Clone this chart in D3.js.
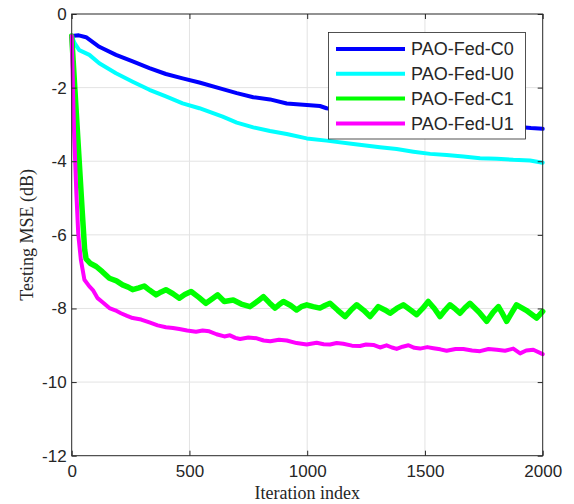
<!DOCTYPE html>
<meta charset="utf-8">
<style>
  body { margin: 0; background: #fff; }
  text { font-family: "Liberation Sans", Arial, Helvetica, sans-serif; }
</style>
<body>
<div class="chart"></div>
<script src="https://d3js.org/d3.v7.min.js"></script>
<script>

    // values (iteration index, testing MSE in dB)
    const iterC0 = [0, 30, 61, 117, 188, 259, 330, 400, 471, 542, 641, 701, 771, 842, 913, 998, 1054, 1082, 1200, 1300, 1400, 1500, 1600, 1700, 1800, 1900, 1950, 2000];
    const mseC0 = [-0.6, -0.58, -0.63, -0.89, -1.11, -1.29, -1.47, -1.63, -1.75, -1.86, -2.04, -2.15, -2.26, -2.32, -2.43, -2.47, -2.50, -2.56, -2.66, -2.76, -2.84, -2.91, -2.96, -3.0, -3.04, -3.07, -3.10, -3.12];

    const iterU0 = [0, 13, 32, 75, 117, 188, 259, 330, 400, 471, 542, 641, 701, 771, 842, 913, 998, 1082, 1196, 1309, 1380, 1451, 1522, 1592, 1663, 1734, 1805, 1875, 1946, 2000];
    const mseU0 = [-0.6, -0.80, -0.98, -1.11, -1.34, -1.61, -1.84, -2.06, -2.24, -2.43, -2.56, -2.79, -2.95, -3.08, -3.18, -3.26, -3.38, -3.44, -3.53, -3.62, -3.67, -3.74, -3.80, -3.83, -3.87, -3.92, -3.93, -3.96, -3.98, -4.04];

    const iterC1 = [0, 30, 45, 55, 61, 80, 104, 130, 160, 190, 216, 240, 259, 285, 308, 330, 358, 380, 400, 430, 457, 480, 507, 540, 570, 600, 620, 648, 686, 720, 757, 790, 814, 840, 863, 880, 899, 930, 955, 975, 998, 1025, 1054, 1075, 1097, 1130, 1161, 1185, 1210, 1240, 1267, 1285, 1302, 1330, 1352, 1380, 1408, 1440, 1465, 1490, 1514, 1540, 1564, 1585, 1606, 1630, 1649, 1670, 1691, 1730, 1762, 1790, 1812, 1830, 1847, 1870, 1889, 1930, 1974, 2000];
    const mseC1 = [-0.6, -3.8, -5.4, -6.4, -6.65, -6.78, -6.86, -7.0, -7.18, -7.25, -7.36, -7.42, -7.49, -7.44, -7.39, -7.5, -7.63, -7.55, -7.49, -7.6, -7.72, -7.62, -7.54, -7.7, -7.86, -7.72, -7.63, -7.81, -7.77, -7.88, -7.95, -7.8, -7.68, -7.85, -7.99, -7.9, -7.81, -7.92, -8.04, -7.95, -7.9, -7.95, -7.99, -7.92, -7.86, -8.05, -8.22, -8.05, -7.9, -8.05, -8.22, -8.08, -7.95, -8.04, -8.13, -8.0, -7.9, -8.05, -8.17, -8.0, -7.81, -8.0, -8.22, -8.05, -7.9, -8.02, -8.13, -7.98, -7.86, -8.1, -8.35, -8.1, -7.95, -8.15, -8.35, -8.1, -7.9, -8.05, -8.26, -8.08];

    const iterU1 = [0, 10, 20, 28, 39, 54, 75, 90, 110, 135, 160, 185, 209, 235, 259, 295, 330, 365, 400, 430, 457, 490, 528, 556, 584, 615, 648, 672, 695, 715, 750, 786, 815, 843, 880, 913, 955, 998, 1040, 1070, 1097, 1125, 1153, 1190, 1224, 1250, 1281, 1309, 1337, 1360, 1380, 1405, 1430, 1455, 1479, 1510, 1536, 1565, 1592, 1630, 1663, 1700, 1734, 1770, 1805, 1840, 1875, 1904, 1930, 1960, 2000];
    const mseU1 = [-0.6, -3.2, -4.9, -6.0, -6.68, -7.22, -7.40, -7.5, -7.72, -7.85, -7.99, -8.05, -8.13, -8.2, -8.26, -8.3, -8.38, -8.46, -8.51, -8.53, -8.56, -8.6, -8.63, -8.6, -8.62, -8.7, -8.76, -8.73, -8.8, -8.83, -8.79, -8.81, -8.87, -8.89, -8.85, -8.87, -8.94, -8.98, -8.93, -8.97, -8.98, -8.94, -8.96, -9.01, -9.02, -8.98, -8.99, -9.06, -9.0, -9.06, -9.1, -9.04, -9.0, -9.07, -9.09, -9.05, -9.08, -9.11, -9.15, -9.1, -9.1, -9.14, -9.16, -9.1, -9.12, -9.15, -9.09, -9.22, -9.14, -9.12, -9.24];

    const seriesNames = ["PAO-Fed-C0", "PAO-Fed-U0", "PAO-Fed-C1", "PAO-Fed-U1"];
    const seriesColors = ["#0000ff", "#00ffff", "#00ff00", "#ff00ff"];
    const xTicks = [0, 500, 1000, 1500, 2000];
    const yTicks = [0, -2, -4, -6, -8, -10, -12];

    let width = 574;
    let height = 504;
    let margin = {top: 14, right: 31.3, bottom: 48.3, left: 71.7};

    let series = [
        {name: seriesNames[0], color: seriesColors[0], x: iterC0, y: mseC0, w: 4},
        {name: seriesNames[1], color: seriesColors[1], x: iterU0, y: mseU0, w: 4},
        {name: seriesNames[2], color: seriesColors[2], x: iterC1, y: mseC1, w: 5.5},
        {name: seriesNames[3], color: seriesColors[3], x: iterU1, y: mseU1, w: 4}
    ];

    let svg = d3.select(".chart").append("svg")
        .attr("width", width)
        .attr("height", height);

    let x = d3.scaleLinear().domain([0, 2000]).range([margin.left, width - margin.right]);
    let y = d3.scaleLinear().domain([-12, 0]).range([height - margin.bottom, margin.top]);

    // grid
    let grid = svg.append("g").attr("stroke", "#e3e3e3").attr("stroke-width", 1);
    grid.selectAll(".gx").data(xTicks.slice(1, -1)).join("line")
        .attr("x1", d => x(d)).attr("x2", d => x(d))
        .attr("y1", y(-12)).attr("y2", y(0));
    grid.selectAll(".gy").data(yTicks.slice(1, -1)).join("line")
        .attr("x1", x(0)).attr("x2", x(2000))
        .attr("y1", d => y(d)).attr("y2", d => y(d));

    // curves
    let line = d3.line()
        .x(d => x(d[0]))
        .y(d => y(d[1]));

    svg.append("g")
        .attr("fill", "none")
        .attr("stroke-linejoin", "round")
        .attr("stroke-linecap", "round")
        .selectAll("path")
        .data(series)
        .join("path")
        .attr("stroke", d => d.color)
        .attr("stroke-width", d => d.w)
        .attr("d", d => line(d.x.map((v, i) => [v, d.y[i]])));

    // axes, MATLAB style: inward ticks on all four sides
    let styleAxis = g => {
        g.select(".domain").remove();
        g.selectAll("line").attr("stroke", "#262626");
        g.selectAll("text").attr("fill", "#262626").style("font-size", "17px")
            .style("font-family", '"Liberation Sans", Arial, sans-serif');
    };

    svg.append("g")
        .attr("transform", `translate(0,${y(-12)})`)
        .call(d3.axisBottom(x).tickValues(xTicks).tickSize(-5).tickPadding(9).tickFormat(d3.format("d")))
        .call(styleAxis);
    svg.append("g")
        .attr("transform", `translate(0,${y(0)})`)
        .call(d3.axisTop(x).tickValues(xTicks).tickSize(-5).tickFormat(""))
        .call(styleAxis);
    svg.append("g")
        .attr("transform", `translate(${x(0)},0)`)
        .call(d3.axisLeft(y).tickValues(yTicks).tickSize(-5).tickPadding(5).tickFormat(d => d3.format("d")(d).replace("−", "-")))
        .call(styleAxis);
    svg.append("g")
        .attr("transform", `translate(${x(2000)},0)`)
        .call(d3.axisRight(y).tickValues(yTicks).tickSize(-5).tickFormat(""))
        .call(styleAxis);

    svg.append("rect")
        .attr("x", x(0)).attr("y", y(0))
        .attr("width", x(2000) - x(0)).attr("height", y(-12) - y(0))
        .attr("fill", "none")
        .attr("stroke", "#262626")
        .attr("stroke-width", 1);

    // axis titles
    svg.append("text")
        .attr("x", (x(0) + x(2000)) / 2)
        .attr("y", 499)
        .attr("text-anchor", "middle")
        .style("font-family", '"Liberation Serif", "DejaVu Serif", serif')
        .style("font-size", "18px")
        .attr("fill", "#262626")
        .text("Iteration index");

    svg.append("text")
        .attr("transform", `translate(33,${(y(0) + y(-12)) / 2}) rotate(-90)`)
        .attr("text-anchor", "middle")
        .style("font-family", '"Liberation Serif", "DejaVu Serif", serif')
        .style("font-size", "18px")
        .attr("fill", "#262626")
        .text("Testing MSE (dB)");

    // legend
    let legend = svg.append("g").attr("transform", "translate(328.5,32.5)");
    legend.append("rect")
        .attr("width", 197).attr("height", 106.5)
        .attr("fill", "#fff")
        .attr("stroke", "#262626")
        .attr("stroke-width", 0.8);
    let items = legend.selectAll(".item").data(series).join("g")
        .attr("transform", (d, i) => `translate(0,${16.5 + i * 24.8})`);
    items.append("line")
        .attr("x1", 7.5).attr("x2", 76.5)
        .attr("stroke", d => d.color)
        .attr("stroke-width", 4);
    items.append("text")
        .attr("x", 82.5)
        .attr("dy", "0.35em")
        .style("font-size", "18px")
        .attr("fill", "#262626")
        .text(d => d.name);

</script>
</body>
